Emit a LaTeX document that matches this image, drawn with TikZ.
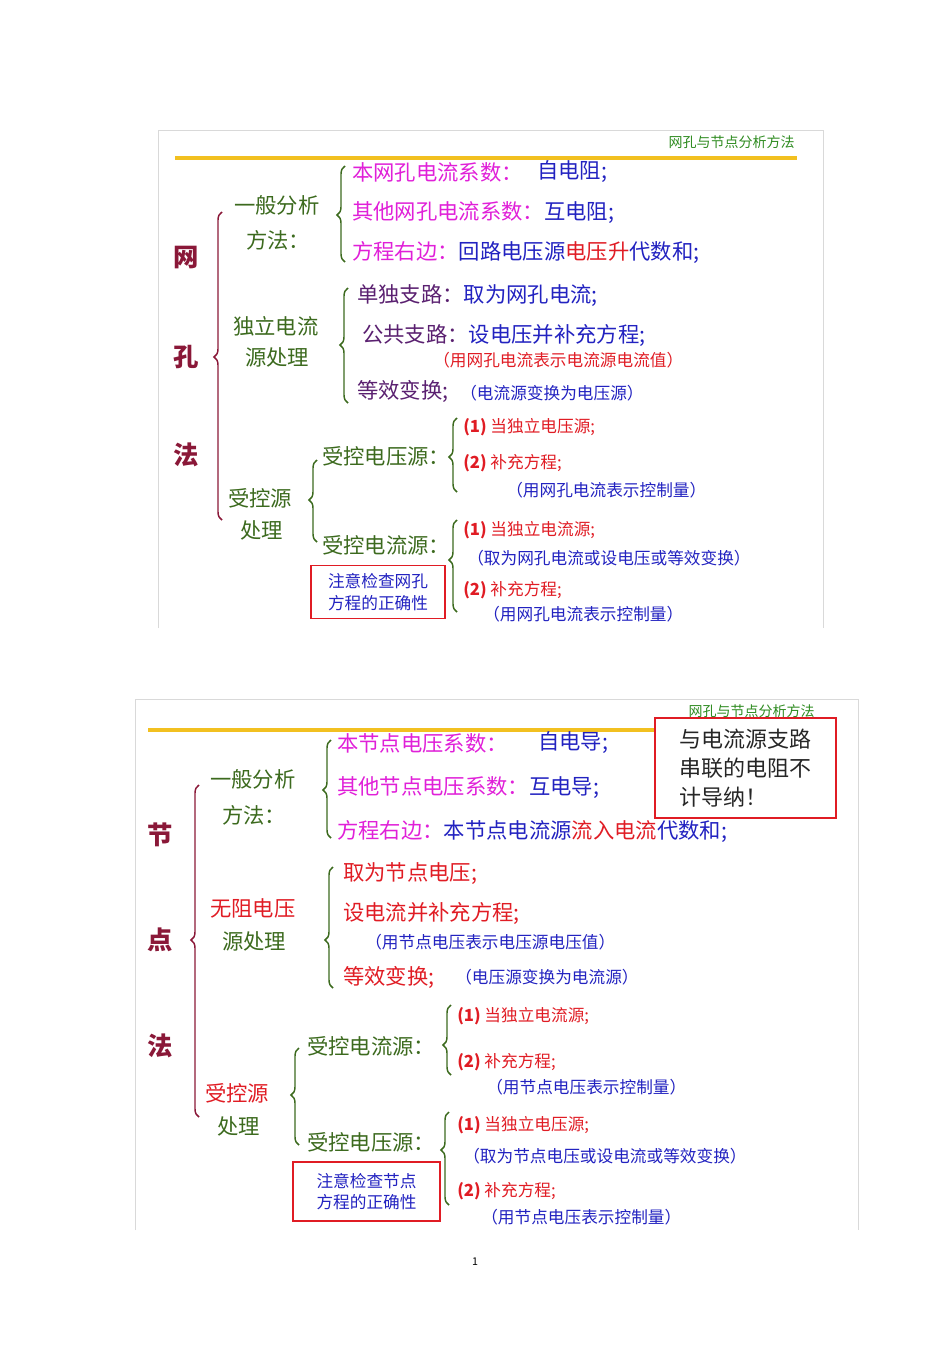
\documentclass[tikz,border=0pt]{standalone}
\usepackage{fontspec}
\setmainfont{Noto Sans CJK SC}
\usetikzlibrary{decorations.pathreplacing}
\definecolor{mag}{HTML}{E020D8}
\definecolor{blu}{HTML}{2222C0}
\definecolor{rd}{HTML}{E01C24}
\definecolor{grn}{HTML}{3C6A1E}
\definecolor{dred}{HTML}{8A1838}
\definecolor{pur}{HTML}{5A2070}
\definecolor{ttl}{HTML}{2E8B20}
\definecolor{yel}{HTML}{F2C020}
\tikzset{
 t/.style={anchor=west,inner sep=0pt,font=\fontsize{16}{18}\selectfont},
 s/.style={anchor=west,inner sep=0pt,font=\fontsize{12.5}{14}\selectfont},
 big/.style={inner sep=0pt,font=\fontsize{19}{21}\selectfont\bfseries,text=dred},
 ttlst/.style={anchor=east,inner sep=0pt,font=\fontsize{10.5}{12}\selectfont,text=ttl},
 rbox/.style={draw=rd,line width=1.2pt,inner sep=4pt,align=left,text=blu,font=\fontsize{12.5}{16}\selectfont},
 frame/.style={draw=black!15,line width=0.6pt},
}
\newcommand{\brc}[5]{\draw[#5,line width=1.1pt,decorate,decoration={brace,amplitude=6pt,aspect={(#3-#4)/(#3-#2)}}] (#1,#3) -- (#1,#2);}
\begin{document}
\begin{tikzpicture}[x=0.75pt,y=-0.75pt]
\useasboundingbox (0,0) rectangle (950,1345);
% ===== top panel =====
\draw[frame] (158,628) -- (158,130) -- (823,130) -- (823,628);
\node[ttlst] (t1) at (795,142) {网孔与节点分析方法};
\draw[yel,line width=3pt] (175,158) -- (797,158);
\node[big] (w1) at (186,258) {网};
\node[big] (w2) at (186,357) {孔};
\node[big] (w3) at (186,455) {法};
\brc{222}{212}{520}{357}{dred}
\node[t,text=grn] (a1) at (234,205) {一般分析};
\node[t,text=grn] (a2) at (246,240) {方法：};
\brc{345}{166}{262}{215}{grn}
\node[t,text=mag] (b1) at (352,172) {本网孔电流系数：};
\node[t,text=blu] (b1r) at (537,172) {自电阻;};
\node[t,text=mag] (b2) at (352,213) {其他网孔电流系数：\textcolor{blu}{互电阻;}};
\node[t,text=mag] (b3) at (352,253) {方程右边：\textcolor{blu}{回路电压源}\textcolor{rd}{电压升}\textcolor{blu}{代数和;}};
\node[t,text=grn] (c1) at (233,326) {独立电流};
\node[t,text=grn] (c2) at (245,357) {源处理};
\brc{348}{288}{403}{345}{grn}
\node[t,text=pur] (d1) at (357,296) {单独支路：\textcolor{blu}{取为网孔电流;}};
\node[t,text=pur] (d2) at (362,335) {公共支路：\textcolor{blu}{设电压并补充方程;}};
\node[s,text=rd] (d3) at (433,360) {（用网孔电流表示电流源电流值）};
\node[t,text=pur] (d4) at (357,391) {等效变换;};
\node[s,text=blu] (d5) at (460,393) {（电流源变换为电压源）};
\node[t,text=grn] (e1) at (228,498) {受控源};
\node[t,text=grn] (e2) at (240,530) {处理};
\brc{317}{460}{542}{500}{grn}
\node[t,text=grn] (f1) at (322,456) {受控电压源：};
\brc{457}{418}{492}{457}{grn}
\node[s,text=rd] (g1) at (463,427) {\textbf{(1)} 当独立电压源;};
\node[s,text=rd] (g2) at (463,463) {\textbf{(2)} 补充方程;};
\node[s,text=blu] (g3) at (506,490) {（用网孔电流表示控制量）};
\node[t,text=grn] (f2) at (322,545) {受控电流源：};
\brc{457}{520}{612}{560}{grn}
\node[s,text=rd] (h1) at (463,530) {\textbf{(1)} 当独立电流源;};
\node[s,text=blu] (h2) at (467,558) {（取为网孔电流或设电压或等效变换）};
\node[s,text=rd] (h3) at (463,590) {\textbf{(2)} 补充方程;};
\node[s,text=blu] (h4) at (483,614) {（用网孔电流表示控制量）};
\node[rbox,minimum width=134*0.75pt,minimum height=53*0.75pt] (k1) at (378,592) {注意检查网孔\\方程的正确性};
% ===== bottom panel =====
\draw[frame] (135,1230) -- (135,699) -- (858,699) -- (858,1230);
\node[ttlst] (t2) at (815,711) {网孔与节点分析方法};
\draw[yel,line width=3pt] (148,730) -- (655,730);
\node[rbox,text=black!85,font=\fontsize{16.5}{22}\selectfont,minimum width=181*0.75pt,minimum height=100*0.75pt,inner sep=5pt] (k2) at (745.5,768) {与电流源支路\\串联的电阻不\\计导纳！};
\node[big] (n1) at (160,835) {节};
\node[big] (n2) at (160,940) {点};
\node[big] (n3) at (160,1046) {法};
\brc{199}{785}{1117}{940}{dred}
\node[t,text=grn] (p1) at (210,779) {一般分析};
\node[t,text=grn] (p2) at (222,815) {方法：};
\brc{331}{740}{838}{790}{grn}
\node[t,text=mag] (q1) at (337,743) {本节点电压系数：};
\node[t,text=blu] (q1r) at (538,743) {自电导;};
\node[t,text=mag] (q2) at (337,788) {其他节点电压系数：\textcolor{blu}{互电导;}};
\node[t,text=mag] (q3) at (337,831) {方程右边：\textcolor{blu}{本节点电流源}\textcolor{rd}{流入电流}\textcolor{blu}{代数和;}};
\node[t,text=rd] (r1) at (210,908) {无阻电压};
\node[t,text=grn] (r2) at (222,941) {源处理};
\brc{333}{867}{988}{940}{grn}
\node[t,text=rd] (u1) at (343,874) {取为节点电压;};
\node[t,text=rd] (u2) at (343,913) {设电流并补充方程;};
\node[s,text=blu] (u3) at (365,942) {（用节点电压表示电压源电压值）};
\node[t,text=rd] (u4) at (343,977) {等效变换;};
\node[s,text=blu] (u5) at (455,977) {（电压源变换为电流源）};
\node[t,text=rd] (v1) at (205,1093) {受控源};
\node[t,text=grn] (v2) at (217,1126) {处理};
\brc{299}{1048}{1145}{1095}{grn}
\node[t,text=grn] (x1) at (307,1046) {受控电流源：};
\brc{451}{1005}{1075}{1045}{grn}
\node[s,text=rd] (y1) at (457,1016) {\textbf{(1)} 当独立电流源;};
\node[s,text=rd] (y2) at (457,1062) {\textbf{(2)} 补充方程;};
\node[s,text=blu] (y3) at (486,1087) {（用节点电压表示控制量）};
\node[t,text=grn] (x2) at (307,1142) {受控电压源：};
\brc{449}{1112}{1205}{1150}{grn}
\node[s,text=rd] (z1) at (457,1125) {\textbf{(1)} 当独立电压源;};
\node[s,text=blu] (z2) at (463,1156) {（取为节点电压或设电流或等效变换）};
\node[s,text=rd] (z3) at (457,1191) {\textbf{(2)} 补充方程;};
\node[s,text=blu] (z4) at (481,1217) {（用节点电压表示控制量）};
\node[rbox,minimum width=147*0.75pt,minimum height=59*0.75pt] (k3) at (366.5,1191.5) {注意检查节点\\方程的正确性};
\node[inner sep=0pt,font=\fontsize{8}{9}\selectfont] (pg) at (475,1262) {1};
\end{tikzpicture}
\end{document}
